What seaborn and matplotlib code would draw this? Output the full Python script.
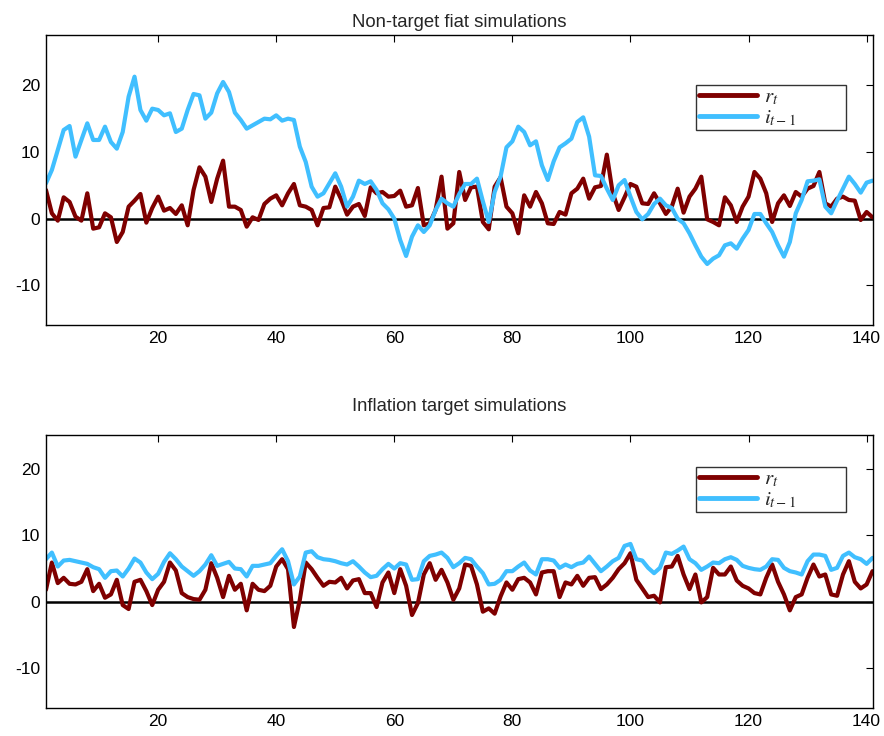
import numpy as np
import pandas as pd
import matplotlib
matplotlib.use('Agg')
import matplotlib.pyplot as plt
import seaborn as sns

# period index
t = np.arange(1, 142)

# Non-target fiat simulations
fiat_r = [4.3, 0.8, -0.3, 3.2, 2.5, 0.3, -0.3, 3.8, -1.5, -1.3,
          0.8, 0.2, -3.5, -2.0, 1.8, 2.7, 3.7, -0.6, 1.6, 3.3,
          1.2, 1.6, 0.7, 2.0, -1.0, 4.3, 7.7, 6.3, 2.5, 6.0,
          8.7, 1.8, 1.8, 1.3, -1.2, 0.2, -0.2, 2.2, 3.0, 3.5,
          2.0, 3.8, 5.2, 2.0, 1.8, 1.3, -1.0, 1.6, 1.7, 4.8,
          2.9, 0.6, 1.8, 2.2, 0.4, 4.7, 3.8, 4.0, 3.3, 3.4,
          4.2, 1.8, 2.0, 4.6, -1.0, -0.7, 1.3, 6.3, -1.5, -0.7,
          7.0, 2.8, 4.7, 4.8, -0.5, -1.6, 4.8, 6.2, 1.8, 0.8,
          -2.2, 3.5, 1.8, 4.0, 2.3, -0.7, -0.8, 1.0, 0.6, 3.8,
          4.5, 6.0, 3.0, 4.7, 4.9, 9.6, 3.8, 1.3, 3.2, 5.2,
          4.8, 2.3, 2.2, 3.8, 2.3, 0.7, 1.8, 4.5, 0.9, 3.3,
          4.5, 6.3, -0.1, -0.5, -1.0, 3.2, 2.0, -0.5, 1.8, 3.3,
          7.0, 6.0, 3.8, -0.5, 2.3, 3.5, 1.9, 4.0, 3.3, 4.5,
          4.9, 7.0, 2.3, 1.8, 3.0, 3.3, 2.8, 2.7, -0.2, 1.0,
          0.2]
fiat_i = [5.3, 7.3, 10.3, 13.3, 13.9, 9.3, 11.8, 14.3, 11.8, 11.8,
          13.8, 11.5, 10.5, 13.0, 18.3, 21.3, 16.3, 14.7, 16.5, 16.3,
          15.5, 15.8, 13.0, 13.5, 16.3, 18.7, 18.5, 15.0, 15.9, 18.8,
          20.5, 19.0, 15.9, 14.8, 13.5, 14.0, 14.5, 15.0, 14.9, 15.5,
          14.7, 15.0, 14.8, 10.8, 8.5, 4.8, 3.3, 3.8, 5.3, 6.8,
          4.8, 1.8, 3.3, 5.7, 5.2, 5.6, 4.3, 2.3, 1.4, 0.0,
          -3.2, -5.6, -2.7, -1.0, -2.0, -1.0, 1.3, 3.0, 2.3, 1.8,
          3.7, 5.2, 5.2, 6.0, 2.6, -0.5, 4.0, 6.3, 10.7, 11.6,
          13.8, 13.0, 11.0, 11.6, 8.0, 5.8, 8.6, 10.7, 11.3, 12.0,
          14.5, 15.2, 12.3, 6.5, 6.4, 4.5, 2.8, 5.0, 5.8, 3.3,
          1.0, -0.1, 0.7, 2.2, 3.0, 2.0, 1.6, 0.0, -0.7, -2.2,
          -4.0, -5.7, -6.8, -6.0, -5.5, -4.0, -3.7, -4.5, -3.0, -1.7,
          0.7, 0.7, -0.7, -2.0, -4.0, -5.7, -3.5, 0.8, 2.8, 5.6,
          5.7, 5.9, 1.8, 0.8, 2.7, 4.5, 6.3, 5.2, 3.9, 5.4,
          5.7]

# Inflation target simulations
target_r = [1.8, 5.9, 2.8, 3.6, 2.7, 2.6, 3.0, 4.9, 1.6, 2.7,
            0.6, 1.1, 3.3, -0.5, -1.1, 3.0, 3.3, 1.6, -0.5, 1.8,
            3.0, 5.9, 4.7, 1.3, 0.7, 0.4, 0.3, 1.8, 5.8, 3.6,
            0.7, 3.9, 1.8, 2.7, -1.3, 2.7, 1.8, 1.6, 2.4, 5.3,
            6.4, 4.9, -3.8, 0.3, 5.9, 4.9, 3.6, 2.4, 3.0, 2.9,
            3.6, 2.0, 3.2, 3.4, 1.3, 1.3, -0.8, 2.9, 4.4, 1.3,
            4.9, 2.4, -2.0, -0.2, 4.1, 5.8, 3.3, 4.8, 2.9, 0.3,
            2.0, 5.6, 5.4, 2.6, -1.5, -1.0, -1.8, 0.8, 2.9, 1.8,
            3.4, 3.6, 2.9, 1.1, 4.4, 4.6, 4.6, 0.7, 2.9, 2.6,
            3.9, 2.4, 3.6, 3.7, 1.9, 2.6, 3.6, 4.9, 5.8, 7.3,
            3.3, 2.0, 0.7, 0.9, -0.1, 5.2, 5.3, 6.9, 4.1, 1.9,
            4.1, -0.1, 0.7, 5.1, 4.1, 4.1, 5.3, 3.2, 2.4, 2.0,
            1.3, 1.1, 3.6, 5.6, 3.0, 1.1, -1.3, 0.7, 1.1, 3.6,
            5.6, 3.8, 4.1, 1.1, 0.9, 4.1, 6.1, 3.0, 2.0, 2.6,
            4.6]
target_i = [6.4, 7.4, 5.3, 6.2, 6.3, 6.1, 5.9, 5.7, 5.2, 4.9,
            3.6, 4.6, 4.7, 3.8, 5.0, 6.5, 5.9, 4.4, 3.4, 4.2,
            6.0, 7.3, 6.4, 5.3, 4.6, 3.9, 4.6, 5.6, 7.0, 5.4,
            5.7, 6.0, 5.0, 4.9, 3.8, 5.4, 5.4, 5.6, 5.8, 6.9,
            7.9, 6.1, 2.6, 3.8, 7.4, 7.6, 6.7, 6.4, 6.3, 6.1,
            5.8, 5.6, 6.1, 5.3, 4.4, 3.7, 3.9, 4.9, 5.7, 5.0,
            5.8, 5.6, 3.3, 3.4, 6.1, 6.9, 7.1, 7.4, 6.6, 5.2,
            5.8, 6.6, 6.4, 5.3, 4.3, 2.6, 2.7, 3.3, 4.6, 4.6,
            5.3, 5.9, 4.7, 4.1, 6.4, 6.4, 6.2, 5.1, 5.6, 5.2,
            5.7, 5.9, 6.8, 5.7, 4.6, 5.3, 6.1, 6.6, 8.4, 8.7,
            6.4, 6.2, 5.1, 4.3, 5.1, 7.4, 7.2, 7.7, 8.3, 6.4,
            5.8, 4.8, 5.3, 5.9, 5.8, 6.4, 6.7, 6.3, 5.4, 5.1,
            4.9, 4.8, 5.3, 6.4, 6.3, 5.1, 4.6, 4.4, 4.1, 6.1,
            7.1, 7.1, 6.9, 4.8, 5.1, 6.9, 7.4, 6.7, 6.4, 5.7,
            6.6]

titles = ['Non-target fiat simulations', 'Inflation target simulations']
series_names = ['$r_t$', '$i_{t-1}$']
colors = ['#7f0000', '#40bfff']

sns.set_style('white')
plt.rcParams['font.family'] = ['Liberation Sans', 'DejaVu Sans']
plt.rcParams['mathtext.fontset'] = 'stix'
plt.rcParams['axes.unicode_minus'] = False

fig = plt.figure(figsize=(8.84, 7.36), dpi=100)
ax_top = fig.add_axes([0.052, 0.558, 0.935, 0.394])
ax_bot = fig.add_axes([0.052, 0.038, 0.935, 0.371])

panels = [(ax_top, fiat_r, fiat_i, (-16, 27.5), 0.83, 6),
          (ax_bot, target_r, target_i, (-16, 25.1), 0.883, 17)]

for k, (ax, r, i, ylim, leg_y, tpad) in enumerate(panels):
    df = pd.DataFrame({'t': t, series_names[0]: r, series_names[1]: i})
    df = df.melt(id_vars='t', var_name='series', value_name='value')
    ax.axhline(0, color='black', lw=1.8, zorder=1)
    sns.lineplot(data=df, x='t', y='value', hue='series',
                 palette=colors, lw=3, ax=ax, zorder=2)
    ax.set_xlim(1, 141)
    ax.set_ylim(*ylim)
    ax.set_xticks(range(20, 141, 20))
    ax.set_yticks([-10, 0, 10, 20])
    ax.set_xlabel('')
    ax.set_ylabel('')
    ax.set_title(titles[k], fontsize=13.3, pad=tpad)
    ax.tick_params(direction='in', top=True, right=True, length=5,
                   width=0.8, labelsize=12.5, colors='black', pad=4)
    for sp in ax.spines.values():
        sp.set_color('black')
        sp.set_linewidth(1.0)
    # box stretched to the width of the reference legend
    leg = ax.legend(loc='upper left', bbox_to_anchor=(0.787, leg_y - 0.3, 0.181, 0.3),
                    mode='expand', fontsize=15, frameon=True, fancybox=False,
                    handlelength=2.8, labelspacing=0.05,
                    borderpad=0.12, handletextpad=0.3, borderaxespad=0)
    leg.get_frame().set_edgecolor('black')
    leg.get_frame().set_linewidth(1.0)
    for line in leg.get_lines():
        line.set_linewidth(3.5)

fig.savefig('out.png', dpi=100)
